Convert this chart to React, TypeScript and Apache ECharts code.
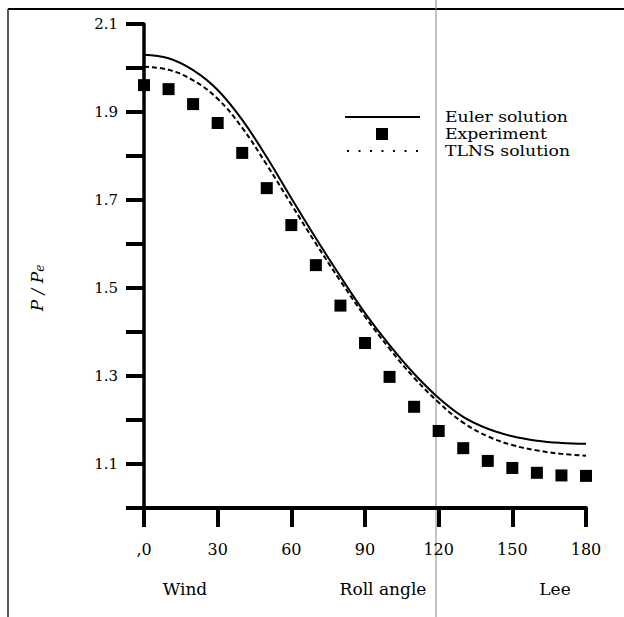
import React, { useEffect, useRef } from "react";
import * as echarts from "echarts";

const angles = [0, 10, 20, 30, 40, 50, 60, 70, 80, 90, 100, 110, 120, 130, 140, 150, 160, 170, 180];
const experiment = [1.961, 1.952, 1.918, 1.875, 1.807, 1.727, 1.643, 1.552, 1.46, 1.375, 1.298, 1.23, 1.175, 1.136, 1.107, 1.091, 1.08, 1.074, 1.073];
const euler = [2.03, 2.022, 1.995, 1.95, 1.882, 1.797, 1.704, 1.613, 1.526, 1.443, 1.37, 1.305, 1.25, 1.207, 1.18, 1.163, 1.153, 1.148, 1.146];
const tlns = [2.003, 1.996, 1.972, 1.93, 1.864, 1.78, 1.69, 1.601, 1.516, 1.435, 1.362, 1.296, 1.24, 1.194, 1.163, 1.143, 1.131, 1.123, 1.119];
const xTickLabels: Record<number, string> = { 0: ",0", 30: "30", 60: "60", 90: "90", 120: "120", 150: "150", 180: "180" };
const seriesNames = ["Euler solution", "Experiment", "TLNS solution"];
const bottomTexts = [
  { text: "Wind", x: 185 },
  { text: "Roll angle", x: 383 },
  { text: "Lee", x: 555 },
];

const FONT = "DejaVu Serif";

export default function App() {
  const ref = useRef<HTMLDivElement>(null);
  useEffect(() => {
    if (!ref.current) return;
    const chart = echarts.init(ref.current, null, { renderer: "svg" });
    const pairs = (ys: number[]) => angles.map((a, i) => [a, ys[i]]);
    const legendY = [117, 134, 151];
    chart.setOption({
      animation: false,
      backgroundColor: "#fff",
      grid: { left: 144, right: 38, top: 24, bottom: 109, containLabel: false },
      xAxis: {
        type: "value",
        min: 0,
        max: 180,
        interval: 30,
        axisLine: { lineStyle: { color: "#000", width: 4 } },
        axisTick: { show: true, length: 19, lineStyle: { color: "#000", width: 4 } },
        axisLabel: {
          margin: 33,
          color: "#000",
          fontFamily: FONT,
          fontSize: 16,
          formatter: (v: number) => xTickLabels[v] ?? "",
        },
        splitLine: { show: false },
      },
      yAxis: {
        type: "value",
        min: 1.0,
        max: 2.1,
        interval: 0.1,
        axisLine: { show: true, lineStyle: { color: "#000", width: 3.5 } },
        axisTick: { show: true, length: 18, lineStyle: { color: "#000", width: 4 } },
        axisLabel: {
          margin: 26,
          color: "#000",
          fontFamily: FONT,
          fontSize: 15,
          formatter: (v: number) => {
            const k = Math.round(v * 10);
            return k % 2 === 1 ? (k / 10).toFixed(1) : "";
          },
        },
        splitLine: { show: false },
      },
      series: [
        {
          name: seriesNames[0],
          type: "line",
          data: pairs(euler),
          smooth: 0.4,
          symbol: "none",
          lineStyle: { color: "#000", width: 2 },
          itemStyle: { color: "#000" },
        },
        {
          name: seriesNames[1],
          type: "scatter",
          data: pairs(experiment),
          symbol: "rect",
          symbolSize: 12,
          itemStyle: { color: "#000", opacity: 1 },
        },
        {
          name: seriesNames[2],
          type: "line",
          data: pairs(tlns),
          smooth: 0.4,
          symbol: "none",
          lineStyle: { color: "#000", width: 2, type: [5, 3] },
          itemStyle: { color: "#000" },
        },
      ],
      graphic: [
        { type: "line", shape: { x1: 8, y1: 9, x2: 624, y2: 9 }, style: { stroke: "#000", lineWidth: 2 } },
        { type: "line", shape: { x1: 8, y1: 9, x2: 8, y2: 617 }, style: { stroke: "#222", lineWidth: 1.5 } },
        { type: "line", shape: { x1: 436, y1: 0, x2: 436, y2: 617 }, style: { stroke: "#888", lineWidth: 1 } },
        // legend
        { type: "line", shape: { x1: 345, y1: legendY[0], x2: 420, y2: legendY[0] }, style: { stroke: "#000", lineWidth: 2 } },
        { type: "rect", shape: { x: 376, y: legendY[1] - 6, width: 12, height: 12 }, style: { fill: "#000" } },
        { type: "line", shape: { x1: 347, y1: legendY[2], x2: 420, y2: legendY[2] }, style: { stroke: "#000", lineWidth: 2, lineDash: [2, 9.5] } },
        ...seriesNames.map((n, i) => ({
          type: "text",
          x: 445,
          y: legendY[i],
          scaleX: 1.15,
          style: { text: n, fill: "#000", font: `15px '${FONT}'`, align: "left", verticalAlign: "middle" },
        })),
        ...bottomTexts.map((t) => ({
          type: "text",
          x: t.x,
          y: 589,
          style: { text: t.text, fill: "#000", font: `17px '${FONT}'`, align: "center", verticalAlign: "middle" },
        })),
        {
          type: "text",
          x: 37,
          y: 288,
          rotation: Math.PI / 2,
          style: {
            text: "{p|P / P}{s|e}",
            align: "center",
            verticalAlign: "middle",
            fill: "#000",
            rich: {
              p: { fontFamily: FONT, fontStyle: "italic", fontSize: 17, fill: "#000" },
              s: { fontFamily: FONT, fontStyle: "italic", fontSize: 12, fill: "#000", padding: [6, 0, 0, 0] },
            },
          },
        },
      ],
    });
    return () => chart.dispose();
  }, []);
  return <div ref={ref} style={{ position: "fixed", left: 0, top: 0, width: 624, height: 617 }} />;
}
